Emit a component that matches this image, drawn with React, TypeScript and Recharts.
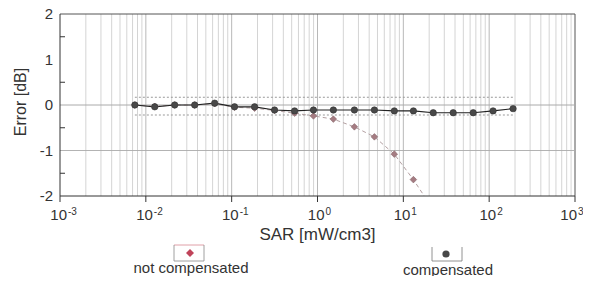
import { ComposedChart, Line, XAxis, YAxis, ReferenceLine } from "recharts"

// SAR values [mW/cm3] and measured error [dB]
const sar = [0.00745, 0.0127, 0.0217, 0.0371, 0.0634, 0.108, 0.185, 0.316, 0.541, 0.897, 1.53, 2.69, 4.6, 7.85, 13.1, 22.3, 38.1, 65.2, 111, 190]
const compensated = [0, -0.04, 0, 0, 0.04, -0.04, -0.04, -0.11, -0.13, -0.11, -0.11, -0.11, -0.11, -0.13, -0.13, -0.17, -0.17, -0.17, -0.13, -0.08]
const notCompensated: (number | null)[] = [0, -0.03, 0, 0, 0.03, -0.05, -0.07, -0.12, -0.18, -0.24, -0.31, -0.48, -0.7, -1.08, -1.64, -2.3, null, null, null, null]

// uncertainty band
const bandUpper = 0.17
const bandLower = -0.22

const xTicks = [0.001, 0.01, 0.1, 1, 10, 100, 1000]
const yTicks = [-2, -1.5, -1, -0.5, 0, 0.5, 1, 1.5, 2]
const gridDecades = [0.001, 0.01, 0.1, 1, 10, 100]
const gridMantissas = [2, 3, 4, 5, 6, 7, 8, 9]

const seriesNames = ["not compensated", "compensated"]

const data = sar.map((s, i) => ({
  sar: s,
  comp: compensated[i],
  notComp: notCompensated[i],
}))

const minorGrid = gridDecades.flatMap((d) => gridMantissas.map((m) => m * d))

const font = "'Liberation Sans', Arial, sans-serif"
const ink = "#333"

const PowerTick = ({ x, y, payload, index }: any) => {
  const exp = Math.round(Math.log10(payload.value))
  // last label is pulled in a bit so the exponent stays on the page
  const shift = index === xTicks.length - 1 ? -5 : 0
  return (
    <g fontFamily={font} fill={ink}>
      <text x={x + 7 + shift} y={y + 16} textAnchor="end" fontSize={15}>10</text>
      <text x={x + 8 + shift} y={y + 11} fontSize={10}>{String(exp)}</text>
    </g>
  )
}

const YTick = ({ x, y, payload }: any) => {
  const v = payload.value
  if (!Number.isInteger(v)) {
    // minor tick points into the plot
    return <line x1={x + 7} x2={x + 12} y1={y} y2={y} stroke={ink} strokeWidth={1} />
  }
  return (
    <text x={x} y={y + 5} textAnchor="end" fontSize={15} fontFamily={font} fill={ink}>
      {v}
    </text>
  )
}

const DiamondDot = (props: any) => {
  const { cx, cy, value } = props
  if (value == null || cx == null || cy == null) return <g key={props.index} />
  const r = 3.3
  return (
    <path
      key={props.index}
      d={`M${cx},${cy - r} L${cx + r},${cy} L${cx},${cy + r} L${cx - r},${cy} Z`}
      fill="#a57c82"
      stroke="#8a6a6e"
      strokeWidth={0.6}
    />
  )
}

const App = () => {
  return (
    <div style={{ position: "relative", width: 583, height: 268, fontFamily: font }}>
      <ComposedChart
        width={583}
        height={268}
        data={data}
        margin={{ top: 6, right: 16, bottom: 40, left: 0 }}>
        {minorGrid.map((v) => (
          <ReferenceLine key={`g-${v}`} x={v} stroke="#c9c9c9" strokeWidth={0.8} />
        ))}
        {xTicks.slice(1, -1).map((v) => (
          <ReferenceLine key={`d-${v}`} x={v} stroke="#b0b0b0" strokeWidth={0.9} />
        ))}
        <ReferenceLine x={1000} stroke="#555" strokeWidth={1} />
        <ReferenceLine y={2} stroke="#555" strokeWidth={1} />
        <ReferenceLine y={0} stroke="#aaa" strokeWidth={1} />
        <ReferenceLine y={-1} stroke="#aaa" strokeWidth={0.9} />
        <ReferenceLine
          segment={[{ x: sar[0], y: bandUpper }, { x: sar[sar.length - 1], y: bandUpper }]}
          stroke="#999"
          strokeDasharray="2 2"
        />
        <ReferenceLine
          segment={[{ x: sar[0], y: bandLower }, { x: sar[sar.length - 1], y: bandLower }]}
          stroke="#999"
          strokeDasharray="2 2"
        />
        <XAxis
          dataKey="sar"
          type="number"
          scale="log"
          domain={[0.001, 1000]}
          ticks={xTicks}
          allowDataOverflow
          height={40}
          tickSize={6}
          tickMargin={2}
          stroke={ink}
          tick={<PowerTick />}
          label={{ value: "SAR [mW/cm3]", position: "insideBottom", offset: -4, fontSize: 17, fill: ink, fontFamily: font }}
        />
        <YAxis
          type="number"
          domain={[-2, 2]}
          ticks={yTicks}
          allowDataOverflow
          width={52}
          tickSize={5}
          tickMargin={2}
          stroke={ink}
          interval={0}
          tickLine={false}
          tick={<YTick />}
          label={{ value: "Error [dB]", angle: -90, position: "center", dx: -14, dy: -3, fontSize: 16, fill: ink, fontFamily: font }}
        />
        <Line
          dataKey="notComp"
          stroke="#b3a0a2"
          strokeWidth={1}
          strokeDasharray="4 3"
          dot={(p: any) => <DiamondDot {...p} />}
          connectNulls={false}
          isAnimationActive={false}
        />
        <Line
          dataKey="comp"
          stroke="#222"
          strokeWidth={1.2}
          dot={{ r: 3.2, fill: "#484848", stroke: "#333", strokeWidth: 0.6 }}
          isAnimationActive={false}
        />
      </ComposedChart>
      <svg
        width={583}
        height={268}
        style={{ position: "absolute", left: 0, top: 0, pointerEvents: "none", overflow: "visible" }}>
        <g>
          <path d="M166,237 L196,237" stroke="#e0a0a8" strokeWidth={1} />
          <path d="M166,237 L166,253 L196,253 L196,237" fill="none" stroke="#888" strokeWidth={0.8} />
          <path d="M182,241 L186,245 L182,249 L178,245 Z" fill="#c0445a" />
          <text x={183} y={265} textAnchor="middle" fontSize={15} fill={ink} fontFamily={font}>
            {seriesNames[0]}
          </text>
        </g>
        <g>
          <path d="M424,239 L424,253 L454,253 L454,239" fill="none" stroke="#777" strokeWidth={0.8} />
          <circle cx={438} cy={246} r={3.6} fill="#484848" />
          <text x={440} y={267} textAnchor="middle" fontSize={15} fill={ink} fontFamily={font}>
            {seriesNames[1]}
          </text>
        </g>
      </svg>
    </div>
  )
}

export default App
